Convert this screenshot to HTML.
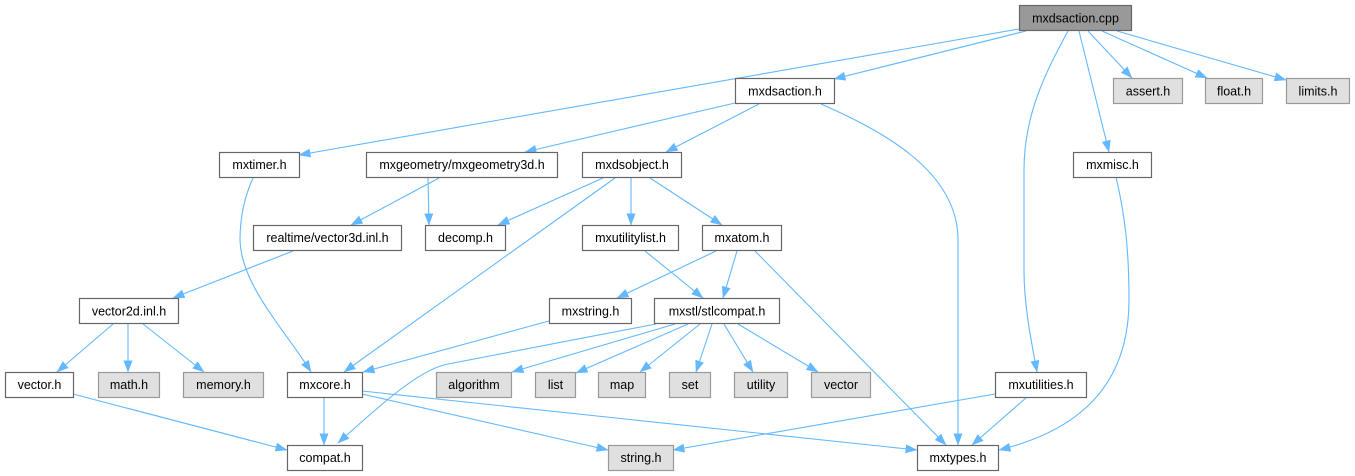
<!DOCTYPE html>
<html><head><meta charset="utf-8"><style>
html,body{margin:0;padding:0;background:#fff;}
svg{display:block;}
text{font-family:"Liberation Sans",Helvetica,Arial,sans-serif;font-size:12.5px;fill:#000;text-anchor:middle;}
.e{fill:none;stroke:#63b8ff;stroke-width:1.1;marker-end:url(#a);}
.w{fill:#fff;stroke:#666;stroke-width:1.2;}
.g{fill:#e0e0e0;stroke:#999;stroke-width:1.2;}
.r{fill:#999;stroke:#666;stroke-width:1.2;}
</style></head><body>
<svg width="1355" height="476" viewBox="0 0 1355 476" xmlns="http://www.w3.org/2000/svg">
<defs>
<marker id="a" viewBox="0 0 12 9" refX="11.5" refY="4.5" markerWidth="12" markerHeight="9" markerUnits="userSpaceOnUse" orient="auto">
<path d="M0,0 L12,4.5 L0,9 z" fill="#63b8ff"/>
</marker>
</defs>
<!-- edges -->
<path class="e" d="M1019,29 L299,155"/>
<path class="e" d="M1026,31 L834,79"/>
<path class="e" d="M1068,31 C1050,65 1024,110 1024,170 L1024,270 C1024,305 1031,340 1037,372"/>
<path class="e" d="M1079,31 L1109,152"/>
<path class="e" d="M1088,31 L1132,78"/>
<path class="e" d="M1102,31 L1207,78"/>
<path class="e" d="M1117,31 L1286,80"/>
<path class="e" d="M735,103 L525,152"/>
<path class="e" d="M759,104 L666,152"/>
<path class="e" d="M821,104 C880,130 958,170 958,240 L958,445"/>
<path class="e" d="M253,178 C243,200 240,220 240,240 C241,285 285,330 311,372"/>
<path class="e" d="M439,178 L351,225"/>
<path class="e" d="M428,178 L429,225"/>
<path class="e" d="M603,178 L498,225"/>
<path class="e" d="M615,178 L344,372"/>
<path class="e" d="M631,178 L631,225"/>
<path class="e" d="M650,178 L722,225"/>
<path class="e" d="M293,251 L173,298"/>
<path class="e" d="M645,251 L703,298"/>
<path class="e" d="M716,251 L617,298"/>
<path class="e" d="M737,251 L723,298"/>
<path class="e" d="M755,251 L946,445"/>
<path class="e" d="M113,324 L57,372"/>
<path class="e" d="M128,324 L128,372"/>
<path class="e" d="M143,324 L204,372"/>
<path class="e" d="M549,321 L363,372"/>
<path class="e" d="M656,324 L448,364 C420,369 380,405 338,443"/>
<path class="e" d="M675,324 L512,372"/>
<path class="e" d="M688,324 L576,373"/>
<path class="e" d="M700,324 L640,372"/>
<path class="e" d="M712,324 L696,372"/>
<path class="e" d="M724,324 L753,372"/>
<path class="e" d="M738,324 L818,372"/>
<path class="e" d="M73,394 L287,450"/>
<path class="e" d="M324,397 L324,445"/>
<path class="e" d="M362,394 L608,450"/>
<path class="e" d="M362,391 L917,450"/>
<path class="e" d="M995,394 L673,450"/>
<path class="e" d="M1027,397 L972,445"/>
<path class="e" d="M1116,177 C1125,215 1129,250 1129,300 C1129,400 1060,435 999,450"/>
<!-- nodes -->
<rect class="r" x="1019.5" y="5.5" width="112" height="25"/><text x="1075.5" y="22.5">mxdsaction.cpp</text>

<rect class="w" x="735.5" y="78.5" width="99" height="25"/><text x="785" y="95.5">mxdsaction.h</text>
<rect class="g" x="1113.5" y="78.5" width="69" height="25"/><text x="1148" y="95.5">assert.h</text>
<rect class="g" x="1205.5" y="78.5" width="57" height="25"/><text x="1234" y="95.5">float.h</text>
<rect class="g" x="1286.5" y="78.5" width="63" height="25"/><text x="1318" y="95.5">limits.h</text>

<rect class="w" x="219.5" y="152.5" width="80" height="25"/><text x="259.5" y="169">mxtimer.h</text>
<rect class="w" x="366.5" y="152.5" width="191" height="25"/><text x="462" y="169">mxgeometry/mxgeometry3d.h</text>
<rect class="w" x="582.5" y="152.5" width="99" height="25"/><text x="632" y="169">mxdsobject.h</text>
<rect class="w" x="1073.5" y="152.5" width="78" height="25"/><text x="1112.5" y="169">mxmisc.h</text>

<rect class="w" x="253.5" y="225.5" width="148" height="25"/><text x="327.5" y="242">realtime/vector3d.inl.h</text>
<rect class="w" x="425.5" y="225.5" width="80" height="25"/><text x="465.5" y="242">decomp.h</text>
<rect class="w" x="582.5" y="225.5" width="96" height="25"/><text x="630.5" y="242">mxutilitylist.h</text>
<rect class="w" x="702.5" y="225.5" width="79" height="25"/><text x="742" y="242">mxatom.h</text>

<rect class="w" x="79.5" y="298.5" width="99" height="25"/><text x="129" y="315.5">vector2d.inl.h</text>
<rect class="w" x="549.5" y="298.5" width="82" height="25"/><text x="590.5" y="315.5">mxstring.h</text>
<rect class="w" x="654.5" y="298.5" width="125" height="25"/><text x="717" y="315.5">mxstl/stlcompat.h</text>

<rect class="w" x="5.5" y="372.5" width="68" height="25"/><text x="39.5" y="389">vector.h</text>
<rect class="g" x="98.5" y="372.5" width="61" height="25"/><text x="129" y="389">math.h</text>
<rect class="g" x="183.5" y="372.5" width="80" height="25"/><text x="223.5" y="389">memory.h</text>
<rect class="w" x="287.5" y="372.5" width="75" height="25"/><text x="325" y="389">mxcore.h</text>
<rect class="g" x="436.5" y="372.5" width="75" height="25"/><text x="474" y="389">algorithm</text>
<rect class="g" x="535.5" y="372.5" width="40" height="25"/><text x="555.5" y="389">list</text>
<rect class="g" x="598.5" y="372.5" width="47" height="25"/><text x="622" y="389">map</text>
<rect class="g" x="669.5" y="372.5" width="41" height="25"/><text x="690" y="389">set</text>
<rect class="g" x="734.5" y="372.5" width="53" height="25"/><text x="761" y="389">utility</text>
<rect class="g" x="811.5" y="372.5" width="59" height="25"/><text x="841" y="389">vector</text>
<rect class="w" x="995.5" y="372.5" width="91" height="25"/><text x="1041" y="389">mxutilities.h</text>

<rect class="w" x="287.5" y="445.5" width="75" height="25"/><text x="325" y="462">compat.h</text>
<rect class="g" x="608.5" y="445.5" width="65" height="25"/><text x="641" y="462">string.h</text>
<rect class="w" x="917.5" y="445.5" width="81" height="25"/><text x="958" y="462">mxtypes.h</text>
</svg>
</body></html>
